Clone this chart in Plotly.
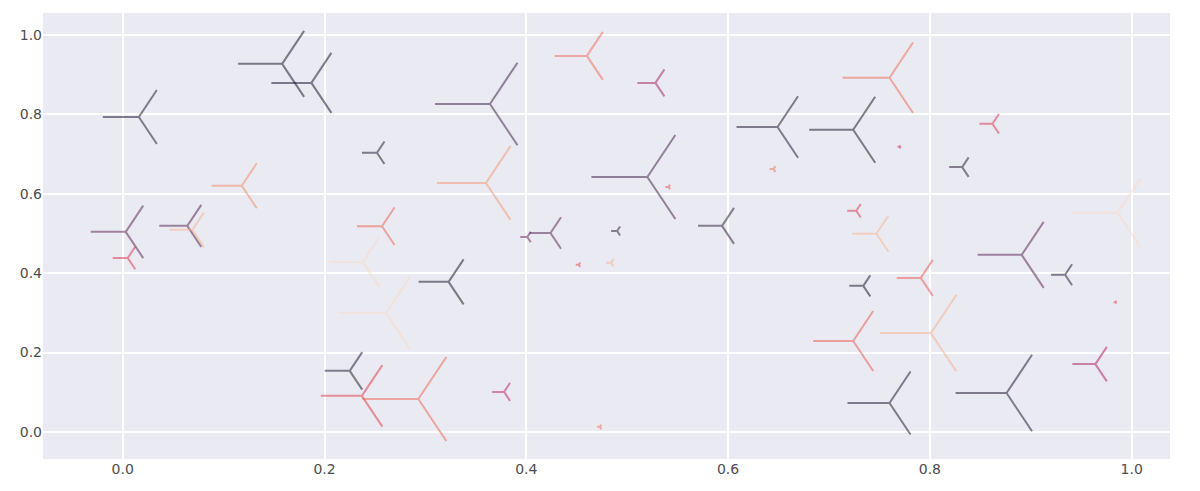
import plotly.graph_objects as go

# point positions
x = [0.158, 0.187, 0.016, 0.252, 0.118, 0.003, 0.064, 0.069, 0.257, 0.005,
     0.460, 0.528, 0.364, 0.360, 0.520, 0.541, 0.649, 0.645, 0.424, 0.401,
     0.490, 0.594, 0.760, 0.724, 0.770, 0.862, 0.832, 0.727, 0.747, 0.986,
     0.734, 0.791, 0.891, 0.934, 0.984, 0.724, 0.801, 0.760, 0.876, 0.964,
     0.225, 0.237, 0.323, 0.293, 0.378, 0.452, 0.484, 0.473, 0.238, 0.261]
y = [0.927, 0.879, 0.793, 0.703, 0.620, 0.504, 0.519, 0.509, 0.518, 0.438,
     0.947, 0.879, 0.826, 0.627, 0.642, 0.617, 0.768, 0.662, 0.501, 0.491,
     0.506, 0.519, 0.892, 0.761, 0.718, 0.776, 0.667, 0.557, 0.499, 0.552,
     0.368, 0.388, 0.446, 0.396, 0.327, 0.229, 0.249, 0.073, 0.098, 0.171,
     0.154, 0.091, 0.378, 0.083, 0.101, 0.421, 0.426, 0.013, 0.428, 0.300]
# marker size (stem length in px)
stem = [44, 40, 36, 15, 30, 35, 28, 23, 25, 15,
        32, 18, 55, 49, 56, 3, 41, 4, 21, 7,
        6, 24, 47, 44, 2, 13, 13, 9, 24, 46,
        14, 24, 44, 14, 2, 40, 51, 42, 51, 23,
        25, 41, 30, 56, 12, 3, 5, 3, 33, 48]
# colour value on the rocket map
colors = [0.02, 0.03, 0.05, 0.05, 0.75, 0.22, 0.20, 0.85, 0.66, 0.55,
          0.68, 0.40, 0.15, 0.78, 0.15, 0.60, 0.05, 0.70, 0.20, 0.25,
          0.10, 0.10, 0.68, 0.02, 0.50, 0.55, 0.08, 0.55, 0.86, 0.96,
          0.03, 0.64, 0.22, 0.05, 0.60, 0.64, 0.85, 0.05, 0.05, 0.42,
          0.05, 0.57, 0.02, 0.67, 0.48, 0.60, 0.85, 0.70, 0.96, 0.96]

rocket = [
    [0.0, "#03051a"], [0.143, "#35193e"], [0.286, "#701f57"],
    [0.429, "#ad1759"], [0.571, "#e13342"], [0.714, "#f37651"],
    [0.857, "#f6b48f"], [1.0, "#faebdd"],
]

fig = go.Figure()
fig.add_trace(go.Scatter(
    x=x, y=y, mode="markers",
    marker=dict(
        symbol="y-left",
        size=[s / 0.8 for s in stem],
        color=colors, colorscale=rocket, cmin=0, cmax=1,
        opacity=0.5,
        line=dict(width=2, color=colors, colorscale=rocket, cmin=0, cmax=1),
    ),
    showlegend=False,
))

axis_style = dict(
    showgrid=True, gridcolor="white", gridwidth=1.5,
    zeroline=False, showline=False, ticks="", automargin=False,
    tickfont=dict(family="DejaVu Sans", size=14, color="#4d4d4d"),
)
fig.update_xaxes(range=[-0.079, 1.038], tickvals=[0, 0.2, 0.4, 0.6, 0.8, 1.0],
                 ticktext=["0.0", "0.2", "0.4", "0.6", "0.8", "1.0"], **axis_style)
fig.update_yaxes(range=[-0.068, 1.055], tickvals=[0, 0.2, 0.4, 0.6, 0.8, 1.0],
                 ticktext=["0.0", "0.2", "0.4", "0.6", "0.8", "1.0"], **axis_style)

# page body adds an 8px margin, so the figure is a bit smaller
fig.update_layout(
    width=1192, height=483,
    margin=dict(l=35, r=30, t=5, b=32, autoexpand=False),
    plot_bgcolor="#eaeaf2", paper_bgcolor="white",
)

fig.write_html("out.html")
